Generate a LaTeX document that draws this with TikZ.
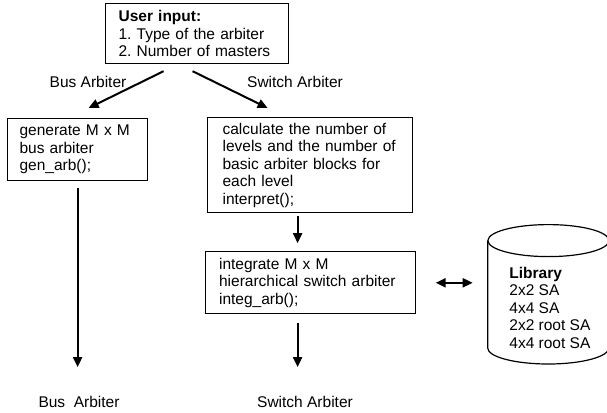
\documentclass[tikz,border=0pt]{standalone}
\usepackage{fontspec}
\setmainfont{Liberation Sans}
\usepackage{tikz}
\usetikzlibrary{positioning,arrows.meta}
\frenchspacing
\tikzset{
  block/.style={rectangle,draw=black,line width=1.2pt,align=left,inner ysep=2pt,
    font=\fontsize{15.5}{17.5}\selectfont},
  flow/.style={line width=2pt,draw=black,-{Triangle[length=10pt,width=9pt]}},
  twoway/.style={line width=2pt,draw=black,{Triangle[length=10pt,width=9pt]}-{Triangle[length=10pt,width=9pt]}},
  store/.style={rectangle,minimum width=121pt,minimum height=139pt,inner sep=0pt},
  storeline/.style={draw=black,line width=1.2pt},
  caption/.style={inner sep=0pt,align=left,font=\fontsize{15.5}{17.5}\selectfont}
}
\begin{document}
\begin{tikzpicture}[x=1pt,y=-1pt]
  \useasboundingbox (0,0) rectangle (607,412);
  \node[block,anchor=north west,inner xsep=13pt,text width=157pt,minimum height=60pt] (input) at (105,3)
    {\textbf{User input:}\\1. Type of the arbiter\\2. Number of masters};
  \node[block,anchor=north west,inner xsep=12pt,text width=116pt,minimum height=62pt] (genbus) at (7,118)
    {generate M x M\\bus arbiter\\gen\_arb();};
  \node[block,anchor=north west,inner xsep=15pt,text width=175pt,minimum height=95pt] (interp) at (207,117)
    {calculate the number of\\levels and the number of\\basic arbiter blocks for\\each level\\interpret();};
  \node[block,below=38pt of interp,inner xsep=14pt,text width=182pt,minimum height=62pt] (integ)
    {integrate M x M\\hierarchical switch arbiter\\integ\_arb();};
  \node[store,right=72pt of integ,yshift=-11.5pt] (lib) {};
  \draw[storeline] ([yshift=-16pt]lib.north) ellipse [x radius=60.5,y radius=16];
  \draw[storeline] ([yshift=-16pt]lib.north west) -- ([yshift=16pt]lib.south west)
    arc [start angle=180,end angle=0,x radius=60.5,y radius=16] -- ([yshift=-16pt]lib.north east);
  \node[caption] (libtext) at ([xshift=1.5pt,yshift=-13.5pt]lib.center)
    {\textbf{Library}\\2x2 SA\\4x4 SA\\2x2 root SA\\4x4 root SA};
  \node[caption] (buslbl) at (88,82) {Bus Arbiter};
  \node[caption] (swlbl) at (295,82) {Switch Arbiter};
  \node[caption] (busout) at (79,402) {Bus\ \ Arbiter};
  \node[caption] (swout) at (305,402) {Switch Arbiter};
  \draw[flow] ([xshift=-33.5pt,yshift=-7pt]input.south) -- ([xshift=11pt,yshift=10pt]genbus.north);
  \draw[flow] ([xshift=-4.5pt,yshift=-7pt]input.south) -- ([xshift=-42.5pt,yshift=9pt]interp.north);
  \draw[flow,shorten <=7pt,shorten >=29pt] (genbus.south) -- (genbus.south |- busout.north);
  \draw[flow,shorten <=3pt,shorten >=8pt] ([xshift=-12.5pt]interp.south) -- ([xshift=-12.5pt]interp.south |- integ.north);
  \draw[flow,shorten <=9pt,shorten >=29pt] ([xshift=-12.5pt]integ.south) -- ([xshift=-12.5pt]integ.south |- swout.north);
  \draw[twoway,shorten <=20pt,shorten >=15pt] (integ.east) -- (integ.east -| lib.west);
\end{tikzpicture}
\end{document}
